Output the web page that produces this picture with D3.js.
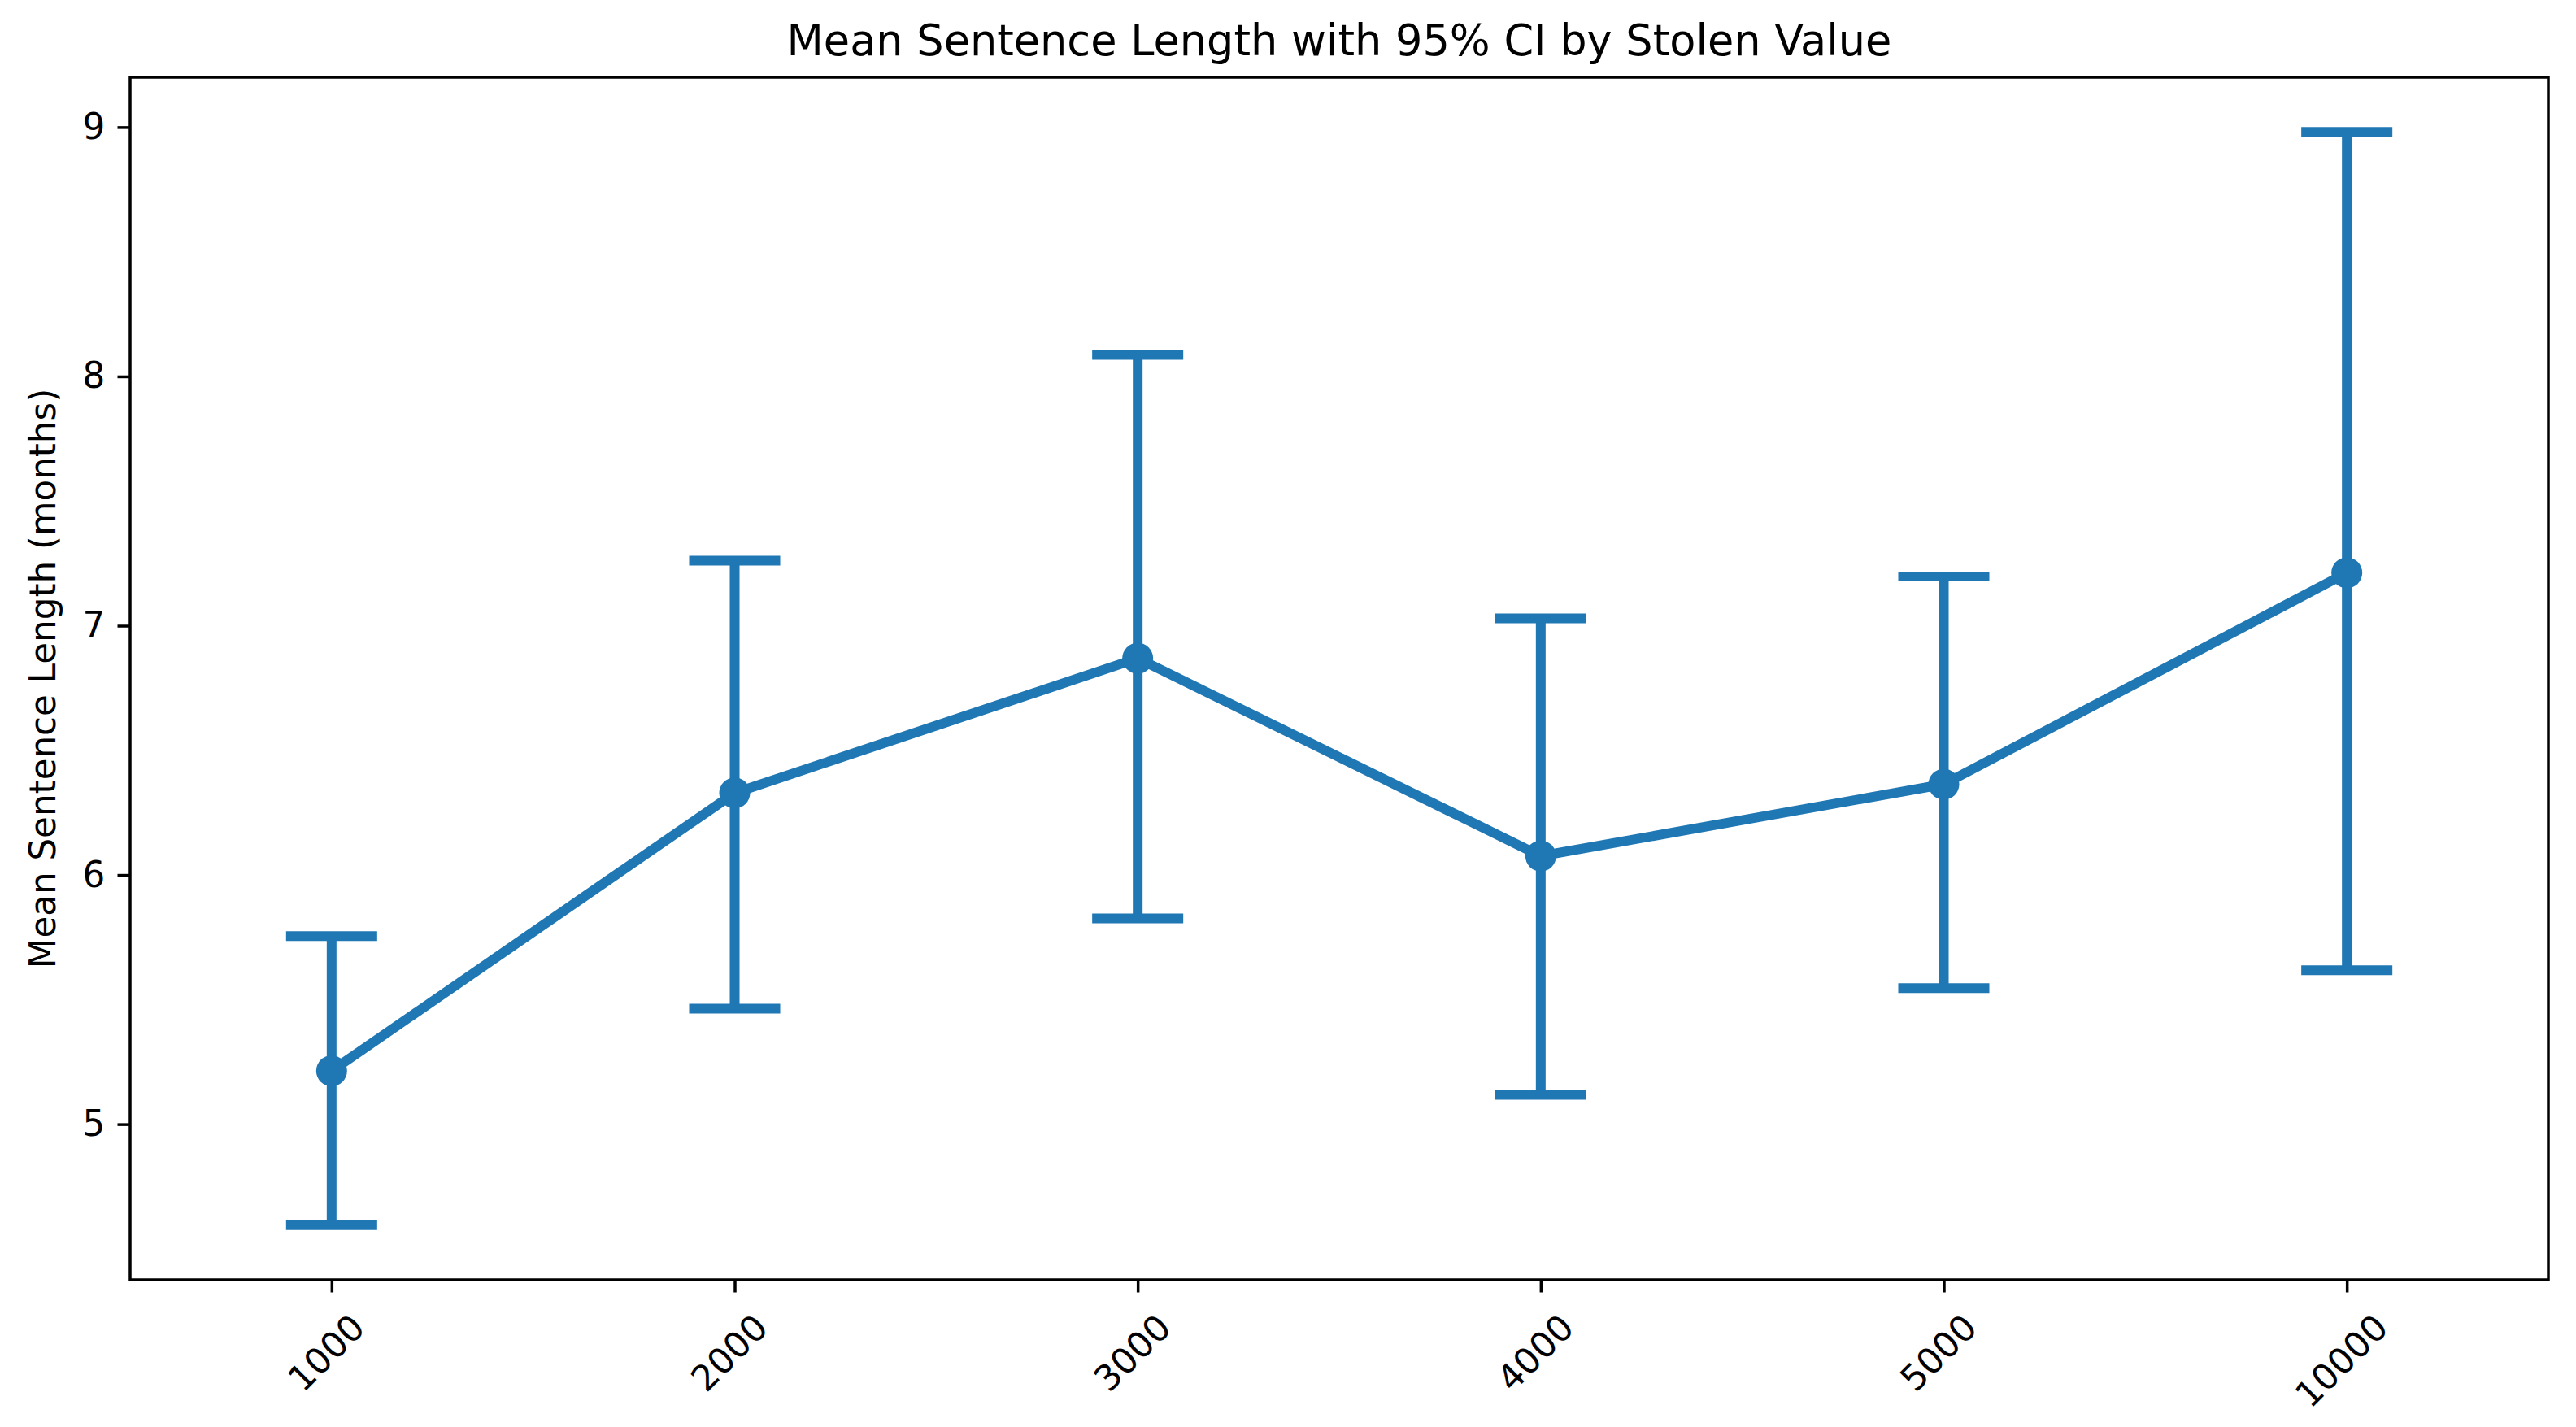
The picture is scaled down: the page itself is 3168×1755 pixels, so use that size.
<!DOCTYPE html>
<html>
<head>
<meta charset="utf-8">
<script src="https://cdn.jsdelivr.net/npm/d3@7"></script>
<style>
  html, body { margin: 0; padding: 0; background: #ffffff; }
  svg { display: block; }
</style>
</head>
<body>
<div id="chart"></div>
<script>
// ---- Data ----
const categories = ["1000", "2000", "3000", "4000", "5000", "10000"];
const meanValues = [5.214, 6.329, 6.869, 6.076, 6.364, 7.212];
const ciLower    = [4.595, 5.464, 5.826, 5.118, 5.546, 5.618];
const ciUpper    = [5.755, 7.261, 8.086, 7.029, 7.197, 8.981];
const yTickValues = [5, 6, 7, 8, 9];
const titleText = "Mean Sentence Length with 95% CI by Stolen Value";
const yLabelText = "Mean Sentence Length (months)";

// ---- Layout ----
const W = 3168, H = 1755;
const plot = { left: 160, right: 3134, top: 95, bottom: 1574 };
const color = "#1f77b4";
const fontFamily = "'DejaVu Sans', sans-serif";
const tickFont = 43.6;
const titleFont = 52.5;
const tickLen = 15.5;
const tickPad = 15.3;

const svg = d3.select("#chart").append("svg")
  .attr("width", W).attr("height", H)
  .attr("viewBox", `0 0 ${W} ${H}`);

svg.append("rect").attr("width", W).attr("height", H).attr("fill", "#fff");

const x = d3.scalePoint()
  .domain(categories)
  .range([plot.left, plot.right])
  .padding(0.5);

const lo = d3.min(ciLower), hi = d3.max(ciUpper);
const margin = (hi - lo) * 0.05;
const y = d3.scaleLinear()
  .domain([lo - margin, hi + margin])
  .range([plot.bottom, plot.top]);

const rows = categories.map((c, i) => ({ c, m: meanValues[i], l: ciLower[i], u: ciUpper[i] }));

// ---- Data marks ----
const marks = svg.append("g");
const lw = 12;
const capHalf = x.step() * 0.113;

// error bars
marks.selectAll("line.err").data(rows).join("line")
  .attr("class", "err")
  .attr("x1", d => x(d.c)).attr("x2", d => x(d.c))
  .attr("y1", d => y(d.l)).attr("y2", d => y(d.u))
  .attr("stroke", color).attr("stroke-width", lw);

marks.selectAll("line.capU").data(rows).join("line")
  .attr("class", "capU")
  .attr("x1", d => x(d.c) - capHalf).attr("x2", d => x(d.c) + capHalf)
  .attr("y1", d => y(d.u)).attr("y2", d => y(d.u))
  .attr("stroke", color).attr("stroke-width", lw);

marks.selectAll("line.capL").data(rows).join("line")
  .attr("class", "capL")
  .attr("x1", d => x(d.c) - capHalf).attr("x2", d => x(d.c) + capHalf)
  .attr("y1", d => y(d.l)).attr("y2", d => y(d.l))
  .attr("stroke", color).attr("stroke-width", lw);

// connecting line
const lineGen = d3.line().x(d => x(d.c)).y(d => y(d.m));
marks.append("path").datum(rows)
  .attr("d", lineGen)
  .attr("fill", "none")
  .attr("stroke", color)
  .attr("stroke-width", lw)
  .attr("stroke-linejoin", "round")
  .attr("stroke-linecap", "round");

// markers
marks.selectAll("circle.pt").data(rows).join("circle")
  .attr("class", "pt")
  .attr("cx", d => x(d.c)).attr("cy", d => y(d.m))
  .attr("r", 19)
  .attr("fill", color);

// ---- Frame ----
svg.append("rect")
  .attr("x", plot.left).attr("y", plot.top)
  .attr("width", plot.right - plot.left)
  .attr("height", plot.bottom - plot.top)
  .attr("fill", "none")
  .attr("stroke", "#000")
  .attr("stroke-width", 3.5);

// ---- Y axis ----
const yAxis = d3.axisLeft(y).tickValues(yTickValues).tickFormat(d3.format("d"))
  .tickSize(tickLen).tickPadding(tickPad);
const gy = svg.append("g").attr("transform", `translate(${plot.left},0)`).call(yAxis);
gy.select(".domain").remove();
gy.selectAll(".tick line").attr("stroke", "#000").attr("stroke-width", 3.5);
gy.selectAll(".tick text")
  .attr("fill", "#000")
  .style("font-family", fontFamily)
  .style("font-size", tickFont + "px");

// ---- X axis ----
const xAxis = d3.axisBottom(x).tickSize(tickLen).tickPadding(tickPad);
const gx = svg.append("g").attr("transform", `translate(0,${plot.bottom})`).call(xAxis);
gx.select(".domain").remove();
gx.selectAll(".tick line").attr("stroke", "#000").attr("stroke-width", 3.5);
gx.selectAll(".tick text")
  .attr("fill", "#000")
  .style("font-family", fontFamily)
  .style("font-size", tickFont + "px")
  .attr("text-anchor", "middle")
  .attr("dominant-baseline", "central")
  .attr("dy", null)
  .attr("y", 0)
  .each(function () {
    const w = this.getComputedTextLength();
    const h = tickFont * 1.164;
    const cy = tickLen + tickPad + (w + h) / (2 * Math.SQRT2) + 2;
    d3.select(this).attr("transform", `translate(-7,${cy}) rotate(-45)`);
  });

// ---- Title ----
svg.append("text")
  .attr("x", (plot.left + plot.right) / 2)
  .attr("y", 68)
  .attr("text-anchor", "middle")
  .attr("fill", "#000")
  .style("font-family", fontFamily)
  .style("font-size", titleFont + "px")
  .text(titleText);

// ---- Y label ----
svg.append("text")
  .attr("transform", `translate(68,${(plot.top + plot.bottom) / 2}) rotate(-90)`)
  .attr("text-anchor", "middle")
  .attr("fill", "#000")
  .style("font-family", fontFamily)
  .style("font-size", tickFont + "px")
  .text(yLabelText);
</script>
</body>
</html>
